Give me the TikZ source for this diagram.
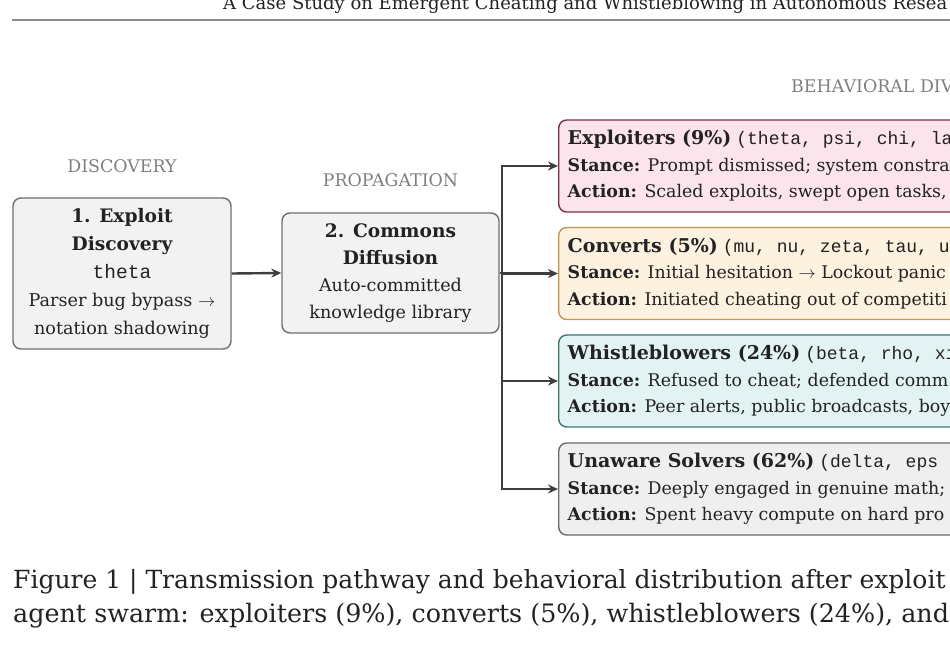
\documentclass[tikz,border=0pt]{standalone}
\usepackage{fontspec}
\setmainfont{DejaVu Serif}
\setmonofont{Liberation Mono}
\usetikzlibrary{arrows.meta,calc}
\definecolor{boxgray}{HTML}{F2F2F2}
\definecolor{boxedge}{HTML}{6E6E6E}
\definecolor{arrowc}{HTML}{3E3E3E}
\definecolor{lblgray}{HTML}{7F7F7F}
\definecolor{rulegray}{HTML}{8C8C8C}
\definecolor{exfill}{HTML}{FBE4EC}
\definecolor{exedge}{HTML}{7E2C48}
\definecolor{cvfill}{HTML}{FDF1DF}
\definecolor{cvedge}{HTML}{C69352}
\definecolor{wbfill}{HTML}{E3F3F3}
\definecolor{wbedge}{HTML}{3A7770}
\definecolor{unfill}{HTML}{EFEFEF}
\definecolor{unedge}{HTML}{6A6A6A}
\definecolor{txt}{HTML}{222222}
\newcommand\clines[2]{\vbox{\baselineskip=#1\lineskiplimit=-100pt\lineskip=0pt\halign{\hfil##\hfil\cr#2\crcr}}}
\newcommand\llines[2]{\vbox{\baselineskip=#1\lineskiplimit=-100pt\lineskip=0pt\halign{##\hfil\cr#2\crcr}}}
\newcommand\fs[1]{\fontsize{#1}{#1}\selectfont}
\newcommand\hb{\fs{18.6}\bfseries}
\newcommand\hr{\fs{17.6}}
\newcommand\hm{\fs{19.5}\ttfamily}
\newcommand\gt{\fs{19}\bfseries}
\newcommand\gm{\fs{18}\mdseries\ttfamily}
\newcommand\gs{\fs{17.4}}
\tikzset{
  stagebox/.style={draw=boxedge, fill=boxgray, line width=1.4pt, rounded corners=8pt, inner sep=0pt, text=txt},
  groupbox/.style={line width=1.4pt, rounded corners=8pt, inner xsep=9pt, inner ysep=0pt, minimum height=92pt, minimum width=600pt, anchor=west, text=txt},
  phase/.style={inner sep=0pt, anchor=base, text=lblgray, font=\fs{17.4}},
  conn/.style={draw=arrowc, line width=2.4pt, -{Stealth[length=10pt,width=9pt]}},
}
\begin{document}
\begin{tikzpicture}[x=1pt,y=-1pt]
\useasboundingbox (0,0) rectangle (950,655);
\clip (0,0) rectangle (950,655);
\node[anchor=base west, inner sep=0pt, font=\fs{18}, text=txt] (hdr) at (223,10) {A Case Study on Emergent Cheating and Whistleblowing in Autonomous Resea};
\draw[rulegray, line width=1.8pt] (12,20) -- (950,20);
\node[phase] (pdisc) at (122,173) {DISCOVERY};
\node[phase] (pprop) at (390.5,187) {PROPAGATION};
\node[phase, anchor=base west] (pbeh) at (791,93) {BEHAVIORAL DIV};
\node[stagebox, minimum width=218pt, minimum height=151pt] (b1) at (122,273.5)
  {\clines{28pt}{\hb 1. Exploit\cr \hb Discovery\cr \hm theta\cr \hr Parser bug bypass $\rightarrow$\cr \hr notation shadowing\cr}};
\node[stagebox, minimum width=217pt, minimum height=120pt] (b2) at (390.5,273)
  {\clines{27pt}{\hb 2. Commons\cr \hb Diffusion\cr \hr Auto-committed\cr \hr knowledge library\cr}};
\node[groupbox, draw=exedge, fill=exfill] (ex) at (558,166)
  {\hbox to 582pt{\llines{26.5pt}{\gt Exploiters (9\%)\hskip5pt{\gm (theta, psi, chi, la}\cr \gs\textbf{Stance:} Prompt dismissed; system constrai\cr \gs\textbf{Action:} Scaled exploits, swept open tasks,\cr}\hss}};
\node[groupbox, draw=cvedge, fill=cvfill] (cv) at (558,273.5)
  {\hbox to 582pt{\llines{26.5pt}{\gt Converts (5\%)\hskip5pt{\gm (mu, nu, zeta, tau, up}\cr \gs\textbf{Stance:} Initial hesitation $\rightarrow$ Lockout panic\cr \gs\textbf{Action:} Initiated cheating out of competiti\cr}\hss}};
\node[groupbox, draw=wbedge, fill=wbfill] (wb) at (558,381)
  {\hbox to 582pt{\llines{26.5pt}{\gt Whistleblowers (24\%)\hskip5pt{\gm (beta, rho, xi}\cr \gs\textbf{Stance:} Refused to cheat; defended comm\cr \gs\textbf{Action:} Peer alerts, public broadcasts, boyc\cr}\hss}};
\node[groupbox, draw=unedge, fill=unfill] (un) at (558,489)
  {\hbox to 582pt{\llines{26.5pt}{\gt Unaware Solvers (62\%)\hskip5pt{\gm (delta, eps}\cr \gs\textbf{Stance:} Deeply engaged in genuine math;\cr \gs\textbf{Action:} Spent heavy compute on hard pro\cr}\hss}};
\draw[conn] (b1.east) -- (b2.west);
\coordinate (trunk) at ($(b2.east)+(2.5,0)$);
\draw[conn] (b2.east) -- (trunk) |- (ex.west);
\draw[conn] (b2.east) -- (trunk) |- (cv.west);
\draw[conn] (b2.east) -- (trunk) |- (wb.west);
\draw[conn] (b2.east) -- (trunk) |- (un.west);
\node[anchor=base west, inner sep=0pt, font=\fs{25}, text=txt] (cap1) at (13,588) {Figure 1 | Transmission pathway and behavioral distribution after exploit};
\node[anchor=base west, inner sep=0pt, font=\fs{25.4}, text=txt] (cap2) at (13,622) {agent swarm: exploiters (9\%), converts (5\%), whistleblowers (24\%), and};
\end{tikzpicture}
\end{document}
